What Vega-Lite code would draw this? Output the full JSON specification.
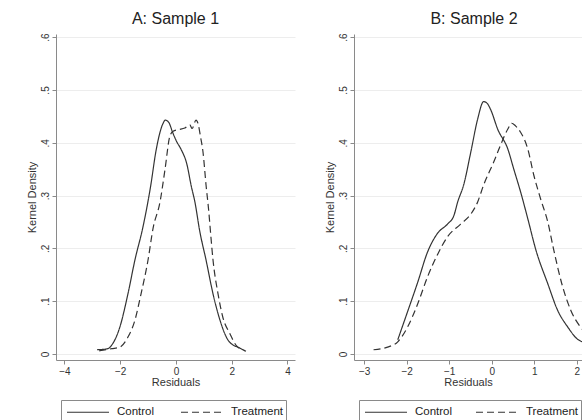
{
  "$schema": "https://vega.github.io/schema/vega-lite/v6.json",
  "padding": {"left": 26, "top": 10, "right": 0, "bottom": 0},
  "autosize": {"type": "pad"},
  "background": "white",
  "config": {
    "font": "Liberation Sans",
    "view": {"stroke": null},
    "title": {"fontSize": 16, "fontWeight": "normal", "color": "#222", "offset": 6, "font": "Liberation Sans"},
    "axis": {
      "domainColor": "#8a8a8a", "tickColor": "#8a8a8a", "tickSize": 4,
      "labelFontSize": 10, "labelColor": "#333", "labelFont": "Liberation Sans",
      "titleFontSize": 11, "titleFontWeight": "normal", "titleColor": "#333", "titleFont": "Liberation Sans",
      "gridColor": "#ededed", "gridWidth": 1
    },
    "legend": {
      "orient": "none", "legendY": 366, "direction": "horizontal",
      "symbolType": "M-2.625,0H2.625", "symbolSize": 256, "symbolOffset": 15, "symbolStrokeWidth": 1.2, "symbolStrokeColor": "#333",
      "labelFontSize": 11.5, "labelColor": "#222", "labelFont": "Liberation Sans", "labelOffset": 20,
      "padding": 3, "strokeColor": "#8a8a8a", "fillColor": "white"
    }
  },
  "datasets": {
    "s1": [
      {"x": -2.83, "y": 0.008, "group": "Control"},
      {"x": -2.44, "y": 0.010, "group": "Control"},
      {"x": -2.30, "y": 0.017, "group": "Control"},
      {"x": -2.01, "y": 0.051, "group": "Control"},
      {"x": -1.72, "y": 0.114, "group": "Control"},
      {"x": -1.47, "y": 0.178, "group": "Control"},
      {"x": -1.18, "y": 0.241, "group": "Control"},
      {"x": -0.90, "y": 0.320, "group": "Control"},
      {"x": -0.72, "y": 0.383, "group": "Control"},
      {"x": -0.57, "y": 0.420, "group": "Control"},
      {"x": -0.45, "y": 0.438, "group": "Control"},
      {"x": -0.38, "y": 0.443, "group": "Control"},
      {"x": -0.25, "y": 0.438, "group": "Control"},
      {"x": -0.12, "y": 0.420, "group": "Control"},
      {"x": 0.02, "y": 0.403, "group": "Control"},
      {"x": 0.18, "y": 0.388, "group": "Control"},
      {"x": 0.39, "y": 0.360, "group": "Control"},
      {"x": 0.55, "y": 0.318, "group": "Control"},
      {"x": 0.68, "y": 0.288, "group": "Control"},
      {"x": 0.86, "y": 0.231, "group": "Control"},
      {"x": 1.08, "y": 0.178, "group": "Control"},
      {"x": 1.33, "y": 0.114, "group": "Control"},
      {"x": 1.58, "y": 0.064, "group": "Control"},
      {"x": 1.86, "y": 0.027, "group": "Control"},
      {"x": 2.05, "y": 0.017, "group": "Control"},
      {"x": 2.22, "y": 0.013, "group": "Control"},
      {"x": 2.51, "y": 0.005, "group": "Control"},
      {"x": -2.75, "y": 0.006, "group": "Treatment"},
      {"x": -2.30, "y": 0.010, "group": "Treatment"},
      {"x": -2.01, "y": 0.013, "group": "Treatment"},
      {"x": -1.72, "y": 0.032, "group": "Treatment"},
      {"x": -1.47, "y": 0.064, "group": "Treatment"},
      {"x": -1.25, "y": 0.114, "group": "Treatment"},
      {"x": -1.00, "y": 0.178, "group": "Treatment"},
      {"x": -0.82, "y": 0.238, "group": "Treatment"},
      {"x": -0.57, "y": 0.288, "group": "Treatment"},
      {"x": -0.39, "y": 0.350, "group": "Treatment"},
      {"x": -0.22, "y": 0.412, "group": "Treatment"},
      {"x": -0.10, "y": 0.422, "group": "Treatment"},
      {"x": 0.10, "y": 0.425, "group": "Treatment"},
      {"x": 0.32, "y": 0.428, "group": "Treatment"},
      {"x": 0.50, "y": 0.434, "group": "Treatment"},
      {"x": 0.58, "y": 0.427, "group": "Treatment"},
      {"x": 0.72, "y": 0.443, "group": "Treatment"},
      {"x": 0.80, "y": 0.435, "group": "Treatment"},
      {"x": 0.88, "y": 0.412, "group": "Treatment"},
      {"x": 0.97, "y": 0.383, "group": "Treatment"},
      {"x": 1.08, "y": 0.320, "group": "Treatment"},
      {"x": 1.18, "y": 0.269, "group": "Treatment"},
      {"x": 1.24, "y": 0.231, "group": "Treatment"},
      {"x": 1.33, "y": 0.178, "group": "Treatment"},
      {"x": 1.51, "y": 0.114, "group": "Treatment"},
      {"x": 1.68, "y": 0.070, "group": "Treatment"},
      {"x": 1.94, "y": 0.038, "group": "Treatment"},
      {"x": 2.15, "y": 0.017, "group": "Treatment"},
      {"x": 2.40, "y": 0.008, "group": "Treatment"}
    ],
    "s2": [
      {"x": -2.21, "y": 0.027, "group": "Control"},
      {"x": -1.98, "y": 0.080, "group": "Control"},
      {"x": -1.74, "y": 0.136, "group": "Control"},
      {"x": -1.51, "y": 0.193, "group": "Control"},
      {"x": -1.27, "y": 0.229, "group": "Control"},
      {"x": -1.04, "y": 0.246, "group": "Control"},
      {"x": -0.89, "y": 0.262, "group": "Control"},
      {"x": -0.80, "y": 0.288, "group": "Control"},
      {"x": -0.66, "y": 0.320, "group": "Control"},
      {"x": -0.49, "y": 0.383, "group": "Control"},
      {"x": -0.33, "y": 0.445, "group": "Control"},
      {"x": -0.19, "y": 0.478, "group": "Control"},
      {"x": -0.10, "y": 0.474, "group": "Control"},
      {"x": -0.02, "y": 0.462, "group": "Control"},
      {"x": 0.14, "y": 0.426, "group": "Control"},
      {"x": 0.38, "y": 0.388, "group": "Control"},
      {"x": 0.52, "y": 0.350, "group": "Control"},
      {"x": 0.68, "y": 0.307, "group": "Control"},
      {"x": 0.85, "y": 0.256, "group": "Control"},
      {"x": 1.04, "y": 0.197, "group": "Control"},
      {"x": 1.32, "y": 0.133, "group": "Control"},
      {"x": 1.55, "y": 0.083, "group": "Control"},
      {"x": 1.79, "y": 0.051, "group": "Control"},
      {"x": 2.02, "y": 0.028, "group": "Control"},
      {"x": 2.16, "y": 0.022, "group": "Control"},
      {"x": 2.40, "y": 0.012, "group": "Control"},
      {"x": -2.78, "y": 0.008, "group": "Treatment"},
      {"x": -2.45, "y": 0.013, "group": "Treatment"},
      {"x": -2.21, "y": 0.023, "group": "Treatment"},
      {"x": -1.98, "y": 0.051, "group": "Treatment"},
      {"x": -1.74, "y": 0.095, "group": "Treatment"},
      {"x": -1.51, "y": 0.146, "group": "Treatment"},
      {"x": -1.27, "y": 0.189, "group": "Treatment"},
      {"x": -1.04, "y": 0.222, "group": "Treatment"},
      {"x": -0.73, "y": 0.246, "group": "Treatment"},
      {"x": -0.49, "y": 0.265, "group": "Treatment"},
      {"x": -0.33, "y": 0.288, "group": "Treatment"},
      {"x": -0.19, "y": 0.320, "group": "Treatment"},
      {"x": 0.05, "y": 0.364, "group": "Treatment"},
      {"x": 0.21, "y": 0.396, "group": "Treatment"},
      {"x": 0.38, "y": 0.426, "group": "Treatment"},
      {"x": 0.47, "y": 0.437, "group": "Treatment"},
      {"x": 0.56, "y": 0.432, "group": "Treatment"},
      {"x": 0.68, "y": 0.420, "group": "Treatment"},
      {"x": 0.85, "y": 0.388, "group": "Treatment"},
      {"x": 0.99, "y": 0.339, "group": "Treatment"},
      {"x": 1.15, "y": 0.294, "group": "Treatment"},
      {"x": 1.32, "y": 0.250, "group": "Treatment"},
      {"x": 1.46, "y": 0.197, "group": "Treatment"},
      {"x": 1.65, "y": 0.133, "group": "Treatment"},
      {"x": 1.86, "y": 0.083, "group": "Treatment"},
      {"x": 2.09, "y": 0.051, "group": "Treatment"},
      {"x": 2.24, "y": 0.038, "group": "Treatment"},
      {"x": 2.50, "y": 0.018, "group": "Treatment"}
    ]
  },
  "spacing": 29,
  "resolve": {"scale": {"strokeDash": "independent", "x": "independent", "y": "independent"}, "legend": {"strokeDash": "independent"}},
  "hconcat": [
    {
      "width": 239,
      "height": 326,
      "title": {"text": "A: Sample 1"},
      "data": {"name": "s1"},
      "mark": {"type": "line", "strokeWidth": 1.2, "color": "#333", "clip": true, "interpolate": "monotone"},
      "encoding": {
        "x": {"field": "x", "type": "quantitative", "scale": {"domain": [-4.3, 4.27], "nice": false, "zero": false},
              "axis": {"values": [-4, -2, 0, 2, 4], "title": "Residuals", "grid": false, "labelPadding": 2, "titlePadding": 0}},
        "y": {"field": "y", "type": "quantitative", "scale": {"domain": [-0.0114, 0.606], "nice": false, "zero": false},
              "axis": {"values": [0, 0.1, 0.2, 0.3, 0.4, 0.5, 0.6], "title": "Kernel Density", "grid": true, "labelAngle": -90, "labelPadding": 2, "titlePadding": 3,
                       "labelExpr": "datum.value == 0 ? '0' : replace(format(datum.value, '.1f'), '0.', '.')"}},
        "strokeDash": {"field": "group", "type": "nominal", "scale": {"domain": ["Control", "Treatment"], "range": [[1, 0], [7, 4]]},
                       "legend": {"title": null, "legendX": 5, "columnPadding": 23}}
      }
    },
    {
      "width": 228,
      "height": 326,
      "title": {"text": "B: Sample 2", "dx": 6},
      "data": {"name": "s2"},
      "mark": {"type": "line", "strokeWidth": 1.2, "color": "#333", "clip": true, "interpolate": "monotone"},
      "encoding": {
        "x": {"field": "x", "type": "quantitative", "scale": {"domain": [-3.24, 2.125], "nice": false, "zero": false},
              "axis": {"values": [-3, -2, -1, 0, 1, 2], "title": "Residuals", "grid": false, "labelPadding": 2, "titlePadding": 0}},
        "y": {"field": "y", "type": "quantitative", "scale": {"domain": [-0.0114, 0.606], "nice": false, "zero": false},
              "axis": {"values": [0, 0.1, 0.2, 0.3, 0.4, 0.5, 0.6], "title": "Kernel Density", "grid": true, "labelAngle": -90, "labelPadding": 2, "titlePadding": 3,
                       "labelExpr": "datum.value == 0 ? '0' : replace(format(datum.value, '.1f'), '0.', '.')"}},
        "strokeDash": {"field": "group", "type": "nominal", "scale": {"domain": ["Control", "Treatment"], "range": [[1, 0], [7, 4]]},
                       "legend": {"title": null, "legendX": 5, "columnPadding": 20}}
      }
    }
  ]
}
